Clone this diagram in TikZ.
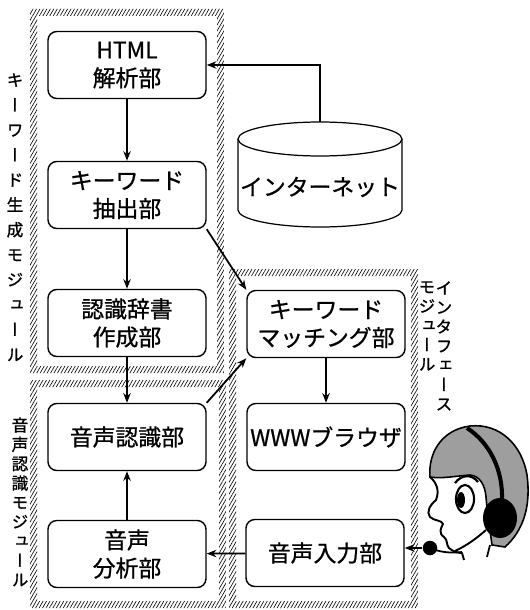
\documentclass[tikz,border=0pt]{standalone}
\usepackage{fontspec}
\setmainfont{Noto Sans CJK JP}[RawFeature={embolden=0.8}]
\newfontfamily\tatefont[RawFeature={+vert,embolden=1.0}]{Noto Sans CJK JP}
\usetikzlibrary{arrows.meta,patterns.meta}

\begin{document}
\begin{tikzpicture}[x=0.2mm, y=-0.2mm,
    block/.style={draw, line width=0.8pt, rounded corners=5pt, minimum width=3.16cm, minimum height=1.34cm,
      align=center, inner xsep=1pt, font=\fontsize{13}{16}\selectfont},
    arr/.style={-{Stealth[length=5.5pt,width=4.2pt]}, line width=1pt},
    band/.style={pattern={Lines[angle=60,distance=1.7pt,line width=0.35pt]}, even odd rule},
    modlabel/.style={align=center, anchor=north, inner sep=0pt}]
    \useasboundingbox (0,0) rectangle (529,610);

    % hatched module frames
    \fill[band] (30,9) rectangle (224,373) (37,16) rectangle (217,366);
    \fill[band] (30,380) rectangle (226,608) (37,387) rectangle (219,601);
    \fill[band] (229,269) rectangle (418,608) (236,276) rectangle (411,601);

    \node[modlabel, font=\tatefont\fontsize{9.5}{14.2}\selectfont] (kwmod) at (15,73)
        {キ\\ー\\ワ\\ー\\ド\\生\\成\\モ\\ジ\\ュ\\ー\\ル};
    \node[modlabel, font=\tatefont\fontsize{9.5}{11}\selectfont] (asrmod) at (20,417)
        {音\\声\\認\\識\\モ\\ジ\\ュ\\ー\\ル};
    \node[modlabel, font=\tatefont\fontsize{9.5}{11}\selectfont] (ifmod) at (444,281)
        {イ\\ン\\タ\\フ\\ェ\\ー\\ス};
    \node[modlabel, font=\tatefont\fontsize{9.5}{11}\selectfont] (ifmod2) at (427,281)
        {モ\\ジ\\ュ\\ー\\ル};

    \node[block] (html) at (127,65) {HTML\\解析部};
    \node[block] (extract) at (127,195) {キーワード\\抽出部};
    \node[block] (dict) at (127,323) {認識辞書\\作成部};
    \node[block] (recog) at (127,437) {音声認識部};
    \node[block] (analysis) at (127,554) {音声\\分析部};
    \node[block] (match) at (326,324) {キーワード\\マッチング部};
    \node[block] (browser) at (326,437) {WWWブラウザ};
    \node[block] (input) at (325,553) {音声入力部};

    % internet drum
    \draw[line width=0.7pt] (238,139) -- (238,210) arc[start angle=180, end angle=0, x radius=82, y radius=17] -- (402,139);
    \draw[line width=0.7pt] (320,139) ellipse [x radius=82, y radius=17];
    \coordinate (nettop) at (320,122);
    \node[font=\fontsize{13}{16}\selectfont, inner sep=0pt] (net) at (320,187) {インターネット};

    % user with headset
    \fill[black!38, draw=black, line width=0.9pt] (430,477) .. controls (428,455) and (440,430) .. (470,426)
        .. controls (500,423) and (522,445) .. (527,475) .. controls (531,505) and (524,530) .. (505,547)
        -- (492,545) .. controls (490,530) and (487,510) .. (486,497) .. controls (485,485) and (480,476) .. (470,475)
        .. controls (455,476) and (442,479) .. (430,477) -- cycle;
    \draw[line width=1.1pt, line join=round] (430,477) .. controls (436,482) and (440,490) .. (436,500)
        .. controls (430,505) and (426,512) .. (430,517) .. controls (434,521) and (442,520) .. (443,524)
        .. controls (441,528) and (438,533) .. (444,537) .. controls (448,540) and (446,545) .. (449,548)
        .. controls (453,552) and (459,553) .. (462,553) -- (464,560);
    \draw[line width=1.1pt] (455,551) .. controls (468,545) and (478,537) .. (486,530);
    \draw[line width=1.3pt] (455,483) .. controls (462,474) and (472,474) .. (478,482);
    \draw[line width=1.2pt, fill=white] (465,499) ellipse [x radius=9, y radius=14];
    \fill (461,500) ellipse [x radius=4, y radius=8];
    \draw[line width=2.3pt] (467,428) .. controls (490,443) and (503,470) .. (502,500);
    \fill (500,518) ellipse [x radius=17, y radius=20];
    \draw[line width=1pt] (430,548) .. controls (442,553) and (452,553) .. (462,552);
    \draw[line width=1pt] (490,545) -- (487,557);
    \node[circle, fill, inner sep=0pt, minimum size=0.29cm] (mic) at (430,548) {};

    \draw[arr] (nettop) |- (html);
    \draw[arr] (html) -- (extract);
    \draw[arr] (extract) -- (dict);
    \draw[arr] (dict) -- (recog);
    \draw[arr] (analysis) -- (recog);
    \draw[arr] (extract.south east) -- (match.north west);
    \draw[arr] (recog.north east) -- (match.south west);
    \draw[arr] (match) -- (browser);
    \draw[arr] (input) -- (analysis);
    \draw[arr] (mic) -- (mic -| input.east);
\end{tikzpicture}
\end{document}
